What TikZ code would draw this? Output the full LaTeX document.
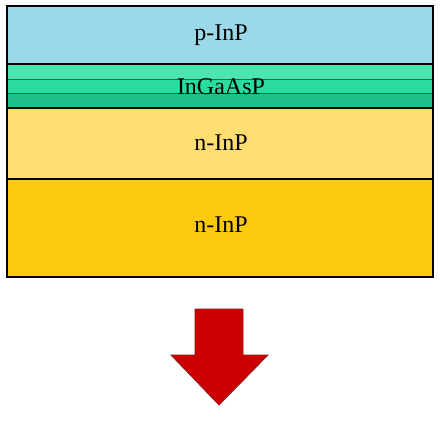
\documentclass[tikz,border=0pt]{standalone}
\usepackage{fontspec}
\setmainfont{Liberation Serif}
\definecolor{pinp}{HTML}{9BD9E8}
\definecolor{qa}{HTML}{4BE6B0}
\definecolor{qb}{HTML}{2ADBA0}
\definecolor{qc}{HTML}{1FC08A}
\definecolor{ninpa}{HTML}{FFDD70}
\definecolor{ninpb}{HTML}{FDC90F}
\definecolor{arrred}{HTML}{CC0000}
\definecolor{arredge}{HTML}{8B1A1A}
\begin{document}
\begin{tikzpicture}[x=1pt,y=-1pt,
  layer/.style={draw=black,line width=1.6pt},
  sublayer/.style={draw=black!70,line width=0.6pt},
  lbl/.style={font=\fontsize{24}{27}\selectfont,text=black,inner sep=0pt}]
\useasboundingbox (0,0) rectangle (440,423);
% layers
\path[fill=pinp] (7,6) rectangle (433,64);
\path[fill=qa] (7,64) rectangle (433,79);
\path[fill=qb] (7,79) rectangle (433,93);
\path[fill=qc] (7,93) rectangle (433,108);
\path[fill=ninpa] (7,108) rectangle (433,179);
\path[fill=ninpb] (7,179) rectangle (433,277);
\draw[sublayer] (7,79) -- (433,79);
\draw[sublayer] (7,93) -- (433,93);
\draw[layer] (7,64) -- (433,64);
\draw[layer] (7,108) -- (433,108);
\draw[layer] (7,179) -- (433,179);
\draw[layer] (7,6) rectangle (433,277);
% labels
\node[lbl] (p) at (221,35) {p-InP};
\node[lbl] (q) at (221,87) {InGaAsP};
\node[lbl] (n1) at (221,143) {n-InP};
\node[lbl] (n2) at (221,225) {n-InP};
% arrow
\draw[fill=arrred,draw=arredge,line width=0.8pt,line join=miter]
  (195,309) -- (243,309) -- (243,355) -- (268,355) -- (219,405) -- (171,355) -- (195,355) -- cycle;
\end{tikzpicture}
\end{document}
